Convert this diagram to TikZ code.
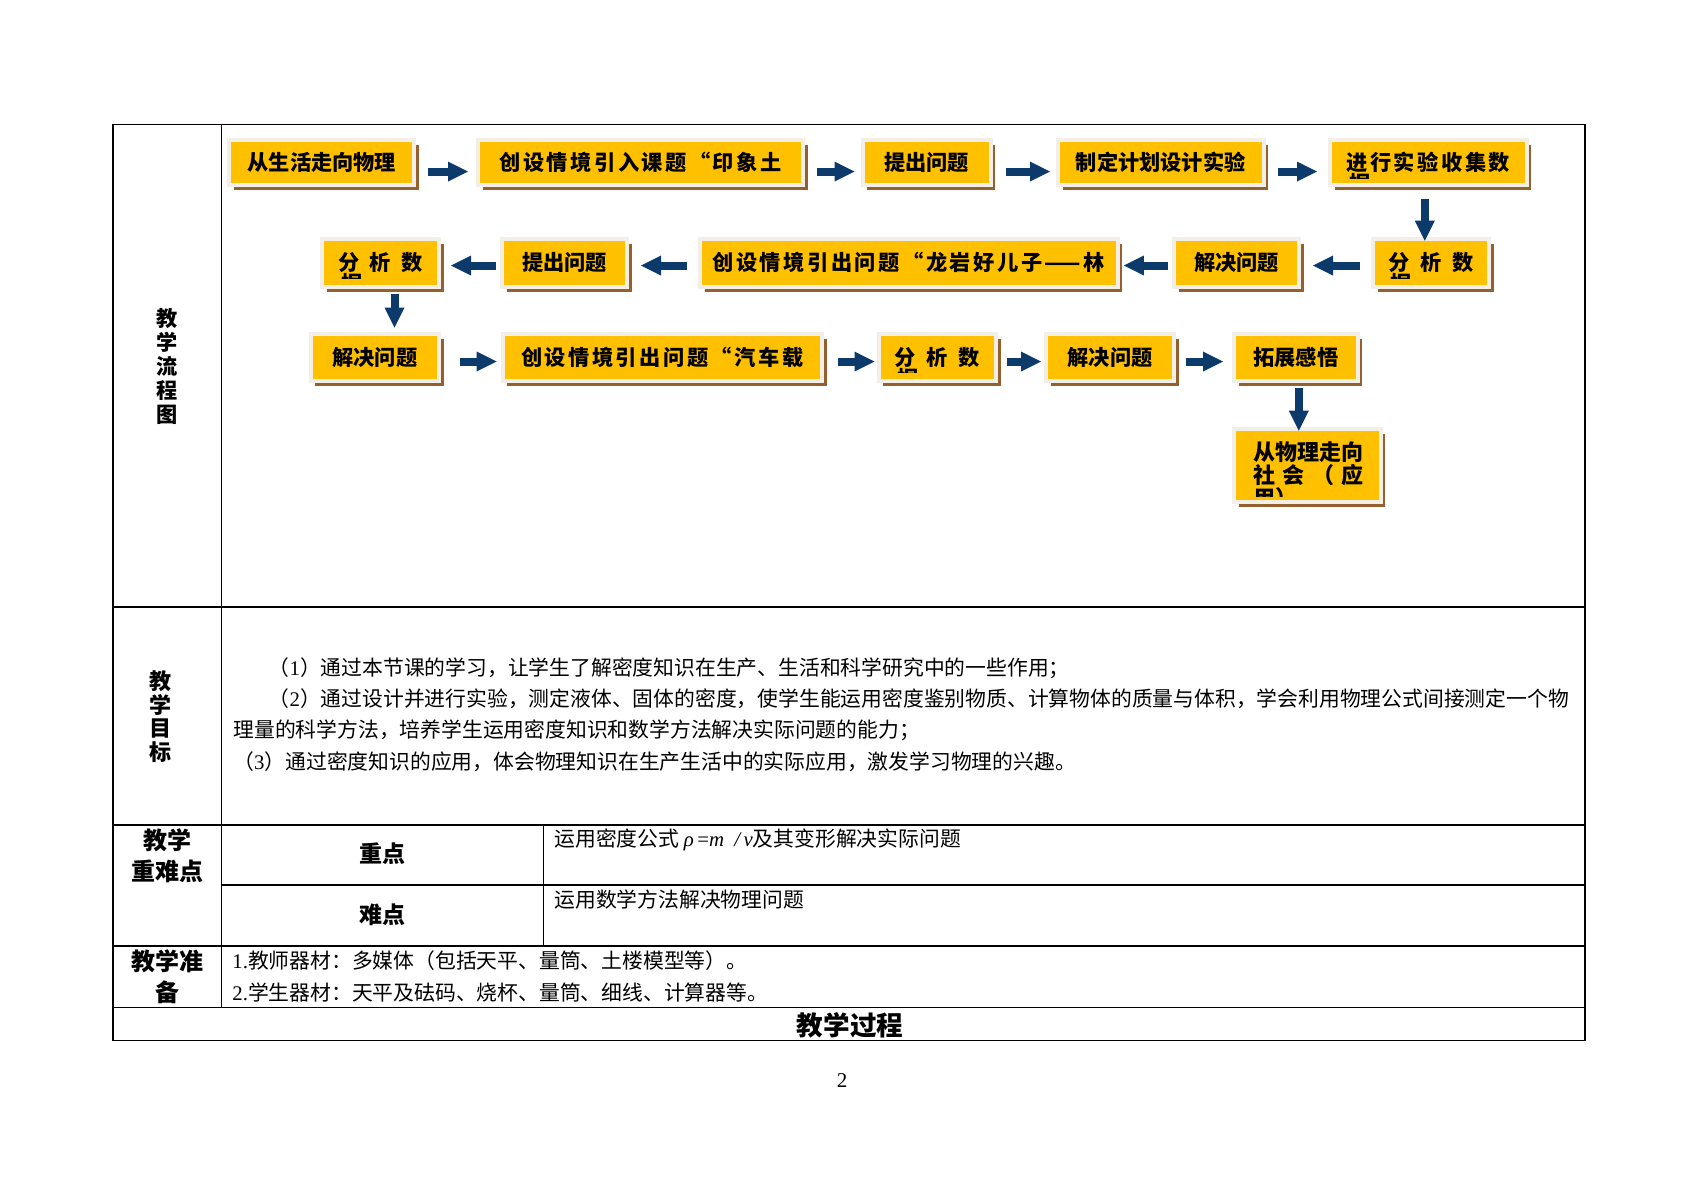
\documentclass[tikz,border=0pt]{standalone}
\usepackage{fontspec}
\setmainfont{Liberation Serif}
\newfontfamily\cjk{Noto Sans CJK SC}
\newfontfamily\cjkwide[LetterSpace=12]{Noto Sans CJK SC}
\usetikzlibrary{arrows.meta,shadows}

\definecolor{boxfill}{HTML}{FFC000}
\definecolor{boxrim}{HTML}{F3EFE6}
\definecolor{boxshade}{HTML}{95602E}
\definecolor{flownavy}{HTML}{0C3A6B}

\tikzset{
  stepbox/.style={draw=boxrim, line width=2pt, fill=boxfill, inner sep=0pt,
    minimum height=22.5pt, font=\cjk\bfseries\fontsize{10.6}{10.6}\selectfont,
    drop shadow={shadow xshift=2.4pt, shadow yshift=-2.4pt, fill=boxshade, opacity=1}},
  flowarrow/.style={draw=flownavy, line width=4pt,
    -{Triangle[length=10pt,width=10pt,line width=0pt]},
    shorten <=6pt, shorten >=4pt},
  rowline/.style={line width=0.7pt},
  headtext/.style={font=\cjk\bfseries\fontsize{12}{15.5}\selectfont, align=center, inner sep=0pt},
  bodytext/.style={font=\cjk\fontsize{10.4}{15.5}\selectfont, anchor=west, inner sep=0pt},
  cuttext/.style={font=\cjk\bfseries\fontsize{10.6}{10}\selectfont, align=left,
    inner sep=0pt, anchor=north west},
}

\begin{document}
\begin{tikzpicture}[x=0.5pt,y=-0.5pt]
    \useasboundingbox (0,0) rectangle (1684,1191);

    % table frame
    \draw[rowline] (113,124.5) rectangle (1585,1040.5);
    \draw[rowline] (221.5,124.5) -- (221.5,1007.5);
    \draw[rowline] (543.5,825) -- (543.5,946);
    \draw[rowline] (221.5,885) -- (1585,885);
    \foreach \y in {607,825,946,1007.5}
        \draw[rowline] (113,\y) -- (1585,\y);

    % left column headings
    \node[headtext, font=\cjk\bfseries\fontsize{10.6}{12}\selectfont] (flowhead) at (167,366) {教\\学\\流\\程\\图};
    \node[headtext, font=\cjk\bfseries\fontsize{11}{11.8}\selectfont] (goalhead) at (160,716.5) {教\\学\\目\\标};
    \node[headtext] (keyhead) at (167.5,855.5) {教学\\重难点};
    \node[headtext, font=\cjk\bfseries\fontsize{11.5}{15}\selectfont] (keypt) at (382,854) {重点};
    \node[headtext, font=\cjk\bfseries\fontsize{11.5}{15}\selectfont] (hardpt) at (382,914.5) {难点};
    \node[headtext] (prephead) at (167.5,977) {教学准\\备};
    \node[headtext, font=\cjk\bfseries\fontsize{13.3}{15}\selectfont] (processhead) at (850,1025) {教学过程};

    % goals
    \node[bodytext] (goal1) at (268.5,668) {（{\rmfamily 1}）通过本节课的学习，让学生了解密度知识在生产、生活和科学研究中的一些作用；};
    \node[bodytext] (goal2) at (268.5,699) {（{\rmfamily 2}）通过设计并进行实验，测定液体、固体的密度，使学生能运用密度鉴别物质、计算物体的质量与体积，学会利用物理公式间接测定一个物};
    \node[bodytext] (goal2b) at (233,730) {理量的科学方法，培养学生运用密度知识和数学方法解决实际问题的能力；};
    \node[bodytext] (goal3) at (233,761.5) {（{\rmfamily 3}）通过密度知识的应用，体会物理知识在生产生活中的实际应用，激发学习物理的兴趣。};

    % key points, preparation
    \node[bodytext] (keytext) at (554,840) {运用密度公式 {\rmfamily\itshape ρ}{\rmfamily\,=}{\rmfamily\itshape m\ \ /\,v}及其变形解决实际问题};
    \node[bodytext] (hardtext) at (554,900) {运用数学方法解决物理问题};
    \node[bodytext] (prep1) at (232,961) {{\rmfamily 1.}教师器材：多媒体（包括天平、量筒、土楼模型等）。};
    \node[bodytext] (prep2) at (232,992.5) {{\rmfamily 2.}学生器材：天平及砝码、烧杯、量筒、细线、计算器等。};

    \node[font=\fontsize{10.5}{12}\selectfont] (pageno) at (842,1081) {2};

    % flow chart, first row
    \node[stepbox, minimum width=92.5pt] (b1) at (321.8,162.3) {从生活走向物理};
    \node[stepbox, minimum width=162.5pt] (b2) at (640.5,162.3) {\cjkwide 创设情境引入课题“印象土};
    \node[stepbox, minimum width=64pt] (b3) at (926.5,162.3) {提出问题};
    \node[stepbox, minimum width=102.75pt] (b4) at (1160.75,162.3) {制定计划设计实验};
    \node[stepbox, minimum width=98.25pt] (b5) at (1428.25,162.3) {\cjkwide 进行实验收集数};
    \begin{scope}
        \clip (b5.north west) rectangle ([yshift=4.4pt]b5.south east);
        \node[cuttext] (b5cut) at (1349,173) {据};
    \end{scope}

    % second row, right to left
    \node[stepbox, minimum width=58pt, minimum height=24pt] (r2a) at (1431,262.7) {分\enspace 析\enspace 数};
    \node[stepbox, minimum width=62.5pt, minimum height=24pt] (r2b) at (1236.5,262.7) {解决问题};
    \node[stepbox, minimum width=208.75pt, minimum height=24pt] (r2c) at (908.75,262.7) {\cjkwide 创设情境引出问题“龙岩好儿子——林};
    \node[stepbox, minimum width=62.5pt, minimum height=24pt] (r2d) at (564.5,262.7) {提出问题};
    \node[stepbox, minimum width=58.5pt, minimum height=24pt] (r2e) at (380.5,262.7) {分\enspace 析\enspace 数};
    \begin{scope}
        \clip (r2a.north west) rectangle ([yshift=5pt]r2a.south east);
        \node[cuttext] (r2acut) at (1390,272.5) {据};
    \end{scope}
    \begin{scope}
        \clip (r2e.north west) rectangle ([yshift=5pt]r2e.south east);
        \node[cuttext] (r2ecut) at (341,272.5) {据};
    \end{scope}

    % third row
    \node[stepbox, minimum width=64.2pt, minimum height=23.4pt] (r3a) at (374.8,357.5) {解决问题};
    \node[stepbox, minimum width=159.6pt, minimum height=23.4pt] (r3b) at (662.2,357.5) {\cjkwide 创设情境引出问题“汽车载};
    \node[stepbox, minimum width=58.75pt, minimum height=23.4pt] (r3c) at (937.25,357.5) {分\enspace 析\enspace 数};
    \node[stepbox, minimum width=64pt, minimum height=23.4pt] (r3d) at (1110,357.5) {解决问题};
    \node[stepbox, minimum width=61.8pt, minimum height=23.4pt] (r3e) at (1295.8,357.5) {拓展感悟};
    \begin{scope}
        \clip (r3c.north west) rectangle ([yshift=5pt]r3c.south east);
        \node[cuttext] (r3ccut) at (897,368) {据};
    \end{scope}

    % last step, text runs past the box
    \node[stepbox, minimum width=73.25pt, minimum height=36.8pt] (r4) at (1307.25,465.5) {};
    \begin{scope}
        \clip (r4.north west) rectangle ([yshift=4pt]r4.south east);
        \node[cuttext, font=\cjk\bfseries\fontsize{11}{9.8}\selectfont] (r4text) at (1253,441)
            {从物理走向\\\makebox[55pt][s]{社\hfill 会\hfill （\hfill 应}\\用）};
    \end{scope}

    % arrows
    \draw[flowarrow] ([yshift=-4.6pt]b1.east) -- ([yshift=-4.6pt]b2.west);
    \draw[flowarrow, shorten >=3pt] ([yshift=-4.6pt]b2.east) -- ([yshift=-4.6pt]b3.west);
    \draw[flowarrow, shorten <=6.7pt, shorten >=3pt] ([yshift=-4.6pt]b3.east) -- ([yshift=-4.6pt]b4.west);
    \draw[flowarrow, shorten >=5.5pt] ([yshift=-4.6pt]b4.east) -- ([yshift=-4.6pt]b5.west);
    \draw[flowarrow, shorten >=-2pt] ([xshift=-1.75pt]b5.south) -- ([xshift=-1.75pt]b5.south |- r2a.north);

    \draw[flowarrow, shorten <=5.5pt, shorten >=6pt] ([yshift=-1.4pt]r2a.west) -- ([yshift=-1.4pt]r2b.east);
    \draw[flowarrow, shorten <=2pt, shorten >=2.2pt] ([yshift=-1.4pt]r2b.west) -- ([yshift=-1.4pt]r2c.east);
    \draw[flowarrow, shorten <=5.5pt, shorten >=6pt] ([yshift=-1.4pt]r2c.west) -- ([yshift=-1.4pt]r2d.east);
    \draw[flowarrow, shorten <=2pt, shorten >=5pt] ([yshift=-1.4pt]r2d.west) -- ([yshift=-1.4pt]r2e.east);
    \draw[flowarrow, shorten <=2.5pt, shorten >=2.3pt] ([xshift=7pt]r2e.south) -- ([xshift=7pt]r2e.south |- r3a.north);

    \draw[flowarrow, shorten <=9.5pt, shorten >=2pt] ([yshift=-2pt]r3a.east) -- ([yshift=-2pt]r3b.west);
    \draw[flowarrow, shorten <=7pt, shorten >=1pt] ([yshift=-2pt]r3b.east) -- ([yshift=-2pt]r3c.west);
    \draw[flowarrow, shorten <=4.5pt, shorten >=1.5pt] ([yshift=-2pt]r3c.east) -- ([yshift=-2pt]r3d.west);
    \draw[flowarrow, shorten <=5pt, shorten >=4.5pt] ([yshift=-2pt]r3d.east) -- ([yshift=-2pt]r3e.west);
    \draw[flowarrow, shorten <=2.5pt, shorten >=-2pt] ([xshift=1.5pt]r3e.south) -- ([xshift=1.5pt]r3e.south |- r4.north);
\end{tikzpicture}
\end{document}
